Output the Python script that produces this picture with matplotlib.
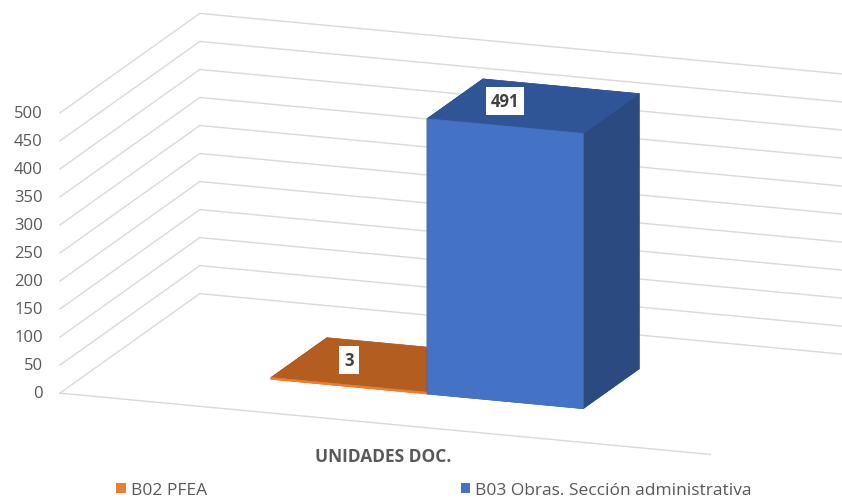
import matplotlib
matplotlib.use("Agg")
import matplotlib.pyplot as plt
import numpy as np
from matplotlib.patches import Patch
from matplotlib.transforms import offset_copy
from mpl_toolkits.mplot3d import proj3d

# ---------------- data ----------------
category = "UNIDADES DOC."
series_names = ["B02 PFEA", "B03 Obras. Sección administrativa"]
values = [3, 491]
y_ticks = [0, 50, 100, 150, 200, 250, 300, 350, 400, 450, 500]
front_colors = ["#ED7D31", "#4472C4"]
top_colors = ["#B35D21", "#2F5597"]
side_colors = ["#A9561D", "#2B4A7F"]

# ---------------- style ----------------
plt.rcParams["font.family"] = ["Open Sans", "DejaVu Sans"]
W, H = 842, 502
grid_color = "#D9D9D9"
text_color = "#595959"

fig = plt.figure(figsize=(W / 100, H / 100), dpi=100)
ax = fig.add_axes([0, 0, 1, 1], projection="3d", computed_zorder=False)
ax.set_proj_type("ortho")
ax.view_init(elev=15, azim=-70)
ax.set_box_aspect((692, 409, 290))
ax.set_xlim(0, 1)
ax.set_ylim(0, 1)
ax.set_zlim(0, max(y_ticks))
ax.set_axis_off()

# walls / gridlines
for t in y_ticks:
    ax.plot([0, 1], [1, 1], [t, t], color=grid_color, lw=1.0, zorder=1)
    ax.plot([0, 0], [0, 1], [t, t], color=grid_color, lw=1.0, zorder=1)
ax.plot([0, 1], [0, 0], [0, 0], color=grid_color, lw=1.0, zorder=1)

# bars
n = len(values)
bw = 0.24
y0, depth = 0.3, 0.4
xs = 0.5 - n * bw / 2 + np.arange(n) * bw
facecolors = []
for i in range(n):
    # order: bottom, top, front(-y), back(+y), left(-x), right(+x)
    facecolors += [front_colors[i], top_colors[i], front_colors[i],
                   front_colors[i], side_colors[i], side_colors[i]]
ax.bar3d(xs, [y0] * n, [0] * n, bw, depth, values, color=facecolors,
         edgecolor=facecolors, linewidth=0.5, shade=False, zorder=2)

# category label and legend
fig.text(383 / W, 1 - 457 / H, category, ha="center", va="center", fontsize=12.5,
         fontweight="bold", color=text_color)
handles = [Patch(facecolor=c, edgecolor="none") for c in front_colors]
fig.legend(handles, series_names, loc="center", bbox_to_anchor=(434 / W, 1 - 491 / H),
           ncol=2, frameon=False, fontsize=12.5, labelcolor=text_color,
           handlelength=0.55, handleheight=0.55, handletextpad=0.3,
           columnspacing=14.6)

# ---------------- place the 3D box ----------------
fig.canvas.draw()
corners = [(0, 0, 0), (1, 0, 0), (0, 1, max(y_ticks))]
targets = np.array([(60, H - 394), (710, H - 456), (200, H - 14)], float)


def proj2d(p):
    x_, y_, _ = proj3d.proj_transform(p[0], p[1], p[2], ax.get_proj())
    return float(x_), float(y_)


P = np.array([ax.transData.transform(proj2d(c)) for c in corners])
Pm, Tm = P.mean(0), targets.mean(0)
s = ((P - Pm) * (targets - Tm)).sum() / ((P - Pm) ** 2).sum()
tr = Tm - s * Pm
bb = ax.get_position()
origin = np.array([bb.x0 * W, bb.y0 * H])
size = bb.width * W
new_origin = s * origin + tr
new_size = s * size
ax.set_position([new_origin[0] / W, new_origin[1] / H, new_size / W, new_size / H])

# ---------------- texts placed at projected 3D anchors ----------------
tick_tr = offset_copy(ax.transData, fig=fig, x=-17, y=0, units="dots")
for t in y_ticks:
    px_, py_ = proj2d((0, 0, t))
    ax.text2D(px_, py_, str(t), transform=tick_tr, ha="right", va="center",
              fontsize=12, color=text_color, zorder=3)

lab_tr = offset_copy(ax.transData, fig=fig, x=0, y=25, units="dots")
for i in range(n):
    px_, py_ = proj2d((xs[i] + bw / 2, y0, values[i]))
    ax.text2D(px_, py_, str(values[i]), transform=lab_tr, ha="center", va="center",
              fontsize=12, fontweight="bold", color="#404040", zorder=4,
              bbox=dict(boxstyle="square,pad=0.3", fc="white", ec="none"))

fig.savefig("out.png", dpi=100)
